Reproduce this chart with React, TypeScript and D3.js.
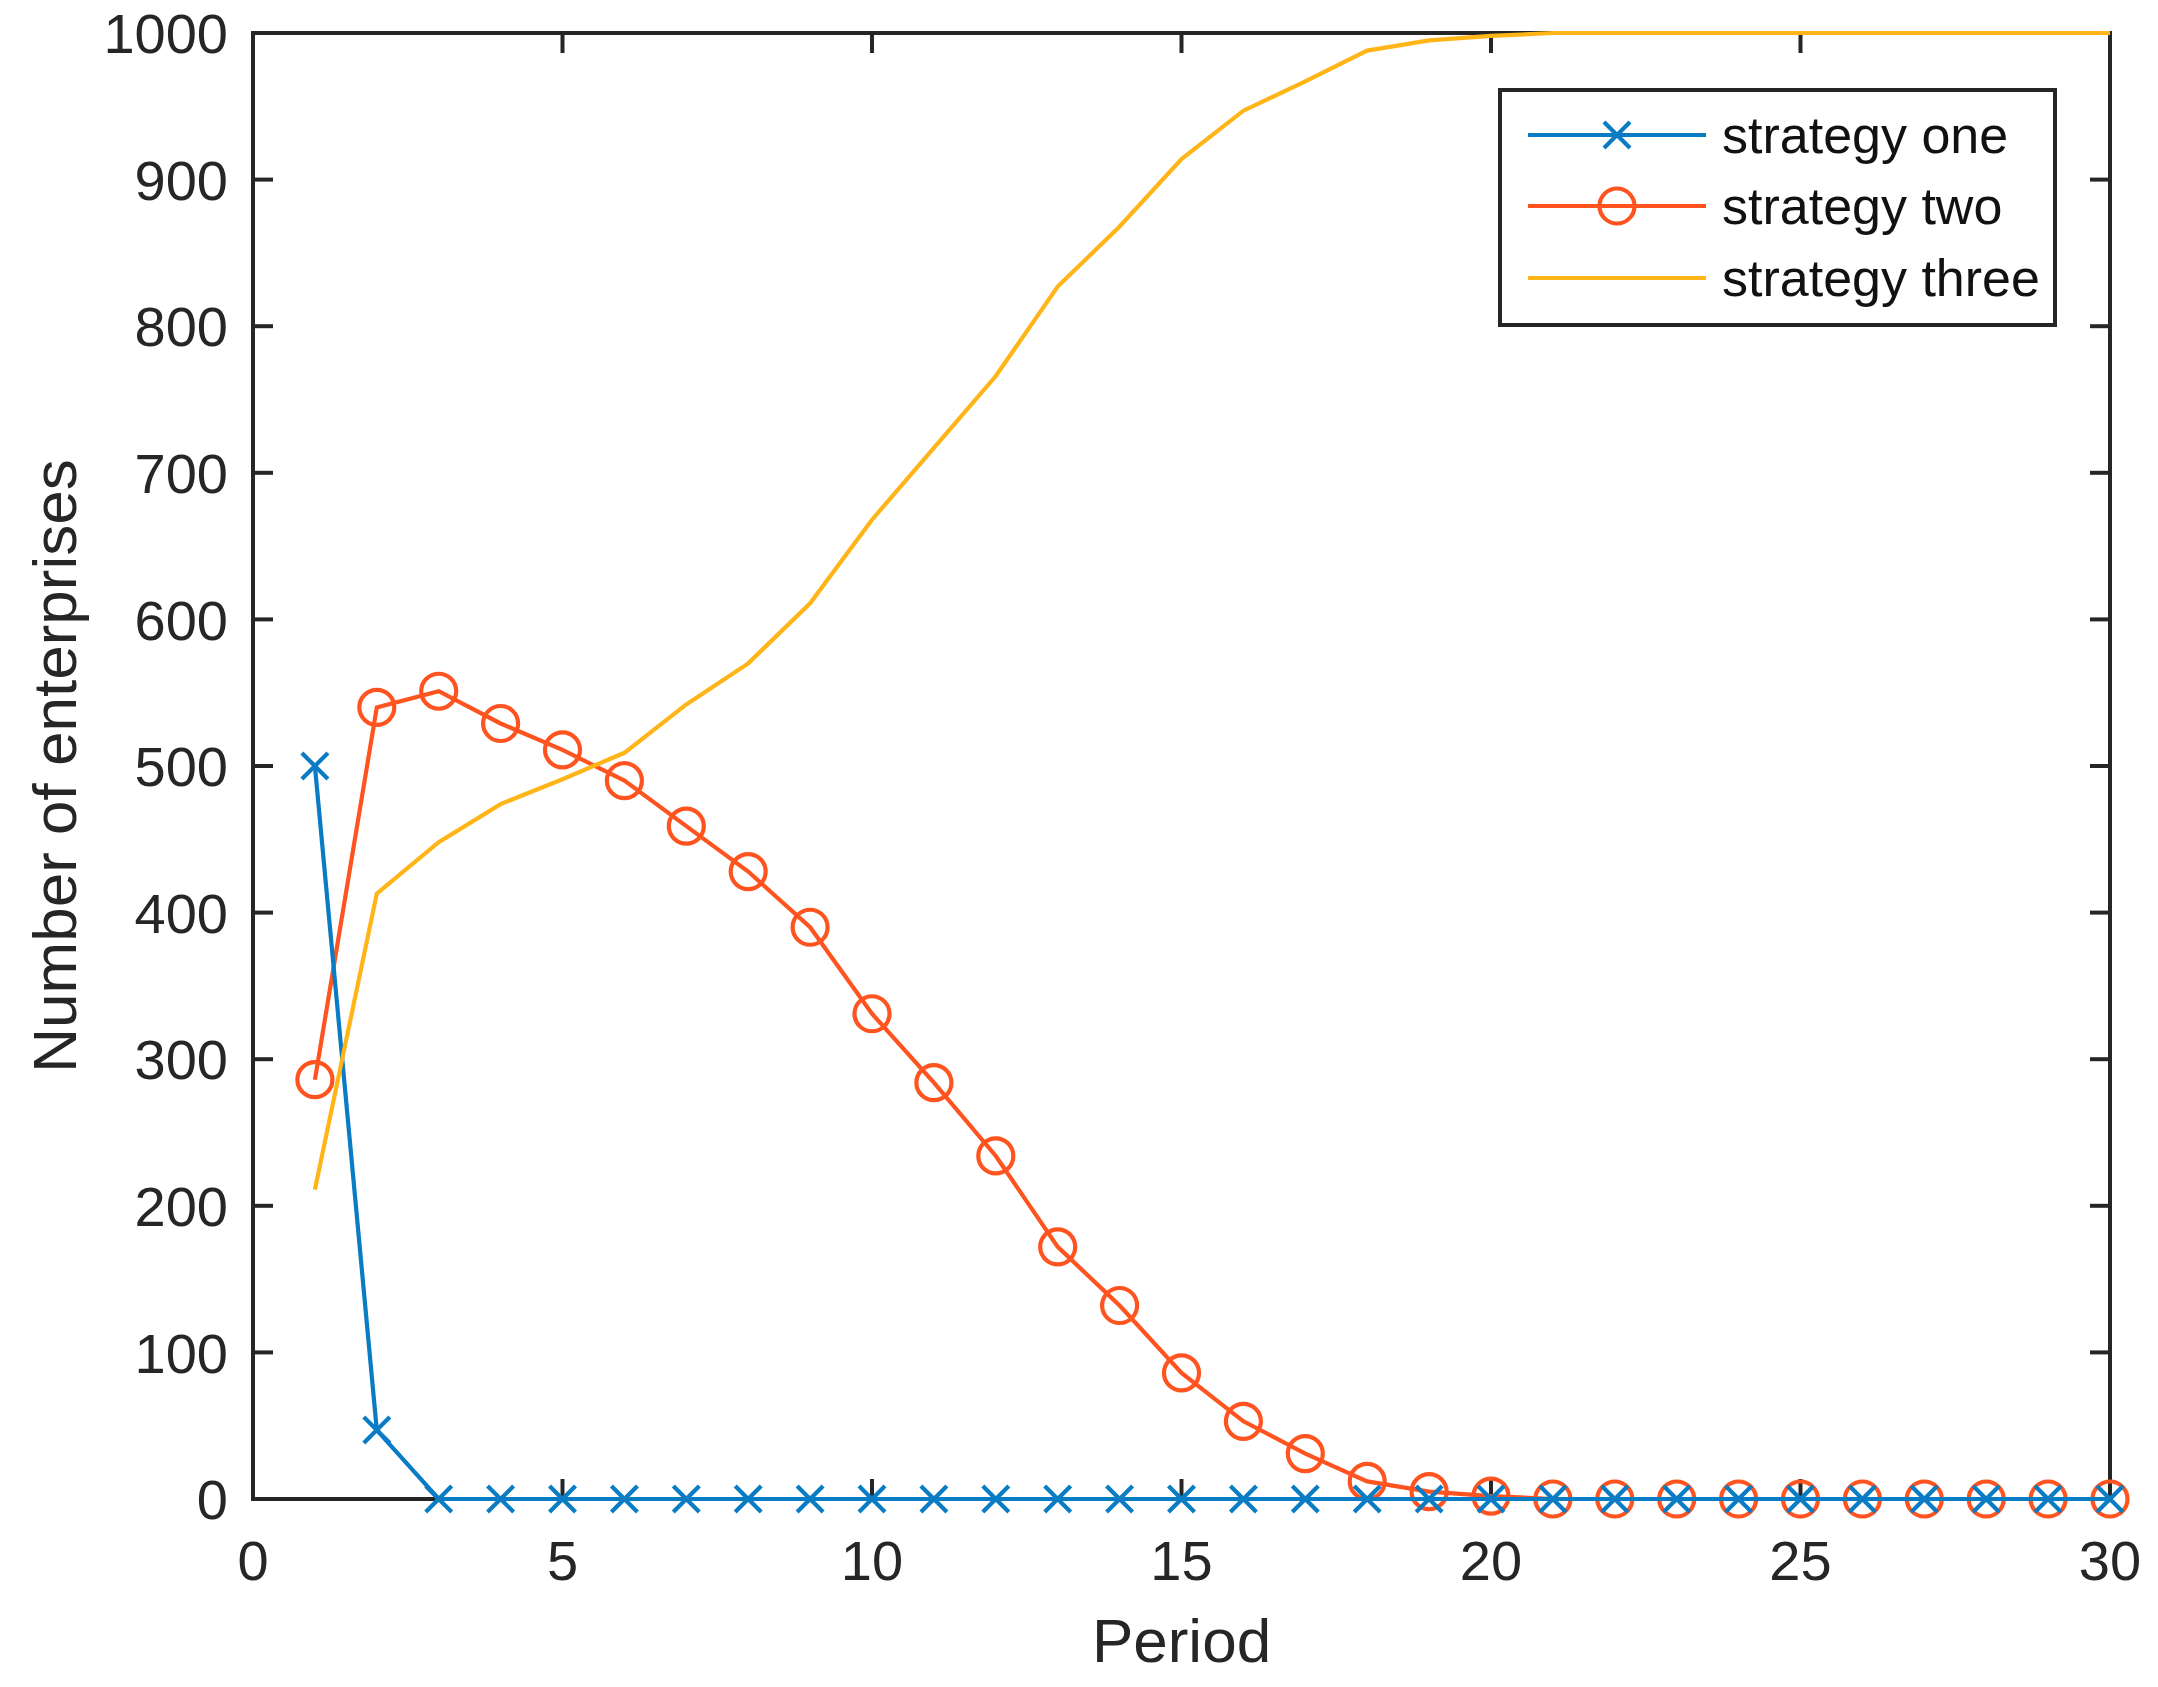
import * as d3 from "d3";
import React from "react";

const width = 2158
const height = 1687
const margin = { top: 33, right: 48, bottom: 188, left: 253 }

const periods = d3.range(1, 31)

const strategyOne = [500, 47, 0, 0, 0, 0, 0, 0, 0, 0, 0, 0, 0, 0, 0, 0, 0, 0, 0, 0, 0, 0, 0, 0, 0, 0, 0, 0, 0, 0]
const strategyTwo = [286, 540, 551, 529, 511, 490, 459, 428, 390, 331, 284, 234, 172, 132, 86, 53, 31, 12, 5, 2, 0, 0, 0, 0, 0, 0, 0, 0, 0, 0]
const strategyThree = [211, 413, 448, 474, 491, 509, 542, 570, 611, 668, 717, 766, 827, 868, 914, 947, 967, 988, 995, 998, 1000, 1000, 1000, 1000, 1000, 1000, 1000, 1000, 1000, 1000]

const xTicks = [0, 5, 10, 15, 20, 25, 30]
const yTicks = [0, 100, 200, 300, 400, 500, 600, 700, 800, 900, 1000]

const legendLabels = ["strategy one", "strategy two", "strategy three"]

const blue = "#0a7cc4"
const orange = "#ff5420"
const yellow = "#ffb517"
const ink = "#262626"
const font = "'Liberation Sans', Arial, sans-serif"
const lw = 4.2

function Cross({ x, y, color }: { x: number, y: number, color: string }) {
  const s = 13
  return (
    <path d={`M${x - s},${y - s}L${x + s},${y + s}M${x - s},${y + s}L${x + s},${y - s}`}
      stroke={color} strokeWidth={lw} fill="none" />
  )
}

export function App() {
  const x = d3.scaleLinear().domain([0, 30]).range([margin.left, width - margin.right])
  const y = d3.scaleLinear().domain([0, 1000]).range([height - margin.bottom, margin.top])

  const line = d3.line<number>()
    .x((d, i) => x(periods[i]))
    .y(d => y(d))

  const x0 = x(0), x1 = x(30), y0 = y(0), y1 = y(1000)
  const tickLen = 20

  const legend = { x: 1500, y: 90, w: 555, h: 235 }
  const rowY = [135, 206, 278]

  return (
    <div>
      <svg width={width} height={height} style={{ position: "absolute", left: 0, top: 0, background: "white" }}>
        {/* axes box and inward ticks */}
        <g stroke={ink} strokeWidth={4} fill="none">
          <rect x={x0} y={y1} width={x1 - x0} height={y0 - y1} />
          {xTicks.map(t => (
            <React.Fragment key={"xt" + t}>
              <line x1={x(t)} x2={x(t)} y1={y0} y2={y0 - tickLen} />
              <line x1={x(t)} x2={x(t)} y1={y1} y2={y1 + tickLen} />
            </React.Fragment>
          ))}
          {yTicks.map(t => (
            <React.Fragment key={"yt" + t}>
              <line x1={x0} x2={x0 + tickLen} y1={y(t)} y2={y(t)} />
              <line x1={x1} x2={x1 - tickLen} y1={y(t)} y2={y(t)} />
            </React.Fragment>
          ))}
        </g>
        <g fill={ink} fontFamily={font} fontSize={56}>
          {xTicks.map(t => (
            <text key={"xl" + t} x={x(t)} y={y0 + 81} textAnchor="middle">{t}</text>
          ))}
          {yTicks.map(t => (
            <text key={"yl" + t} x={x0 - 25} y={y(t)} dy="0.36em" textAnchor="end">{t}</text>
          ))}
        </g>
        <text x={(x0 + x1) / 2} y={1662} textAnchor="middle" fontFamily={font} fontSize={62} fill={ink}>Period</text>
        <text transform={`translate(76, ${(y0 + y1) / 2}) rotate(-90)`} textAnchor="middle"
          fontFamily={font} fontSize={62} fill={ink}>Number of enterprises</text>

        {/* series */}
        <path d={line(strategyTwo) || ""} stroke={orange} strokeWidth={lw} fill="none" />
        {strategyTwo.map((v, i) => (
          <circle key={"c" + i} cx={x(periods[i])} cy={y(v)} r={17.5} stroke={orange} strokeWidth={lw} fill="none" />
        ))}
        <path d={line(strategyOne) || ""} stroke={blue} strokeWidth={lw} fill="none" />
        {strategyOne.map((v, i) => (
          <Cross key={"x" + i} x={x(periods[i])} y={y(v)} color={blue} />
        ))}
        <path d={line(strategyThree) || ""} stroke={yellow} strokeWidth={lw} fill="none" />

        {/* legend */}
        <rect x={legend.x} y={legend.y} width={legend.w} height={legend.h} fill="white" stroke={ink} strokeWidth={4} />
        <line x1={1528} x2={1706} y1={rowY[0]} y2={rowY[0]} stroke={blue} strokeWidth={lw} />
        <Cross x={1617} y={rowY[0]} color={blue} />
        <line x1={1528} x2={1706} y1={rowY[1]} y2={rowY[1]} stroke={orange} strokeWidth={lw} />
        <circle cx={1617} cy={rowY[1]} r={17.5} stroke={orange} strokeWidth={lw} fill="none" />
        <line x1={1528} x2={1706} y1={rowY[2]} y2={rowY[2]} stroke={yellow} strokeWidth={lw} />
        {legendLabels.map((l, i) => (
          <text key={l} x={1722} y={rowY[i]} dy="0.35em" fontFamily={font} fontSize={52} fill="#111">{l}</text>
        ))}
      </svg>
    </div>
  );
}

export default App;
